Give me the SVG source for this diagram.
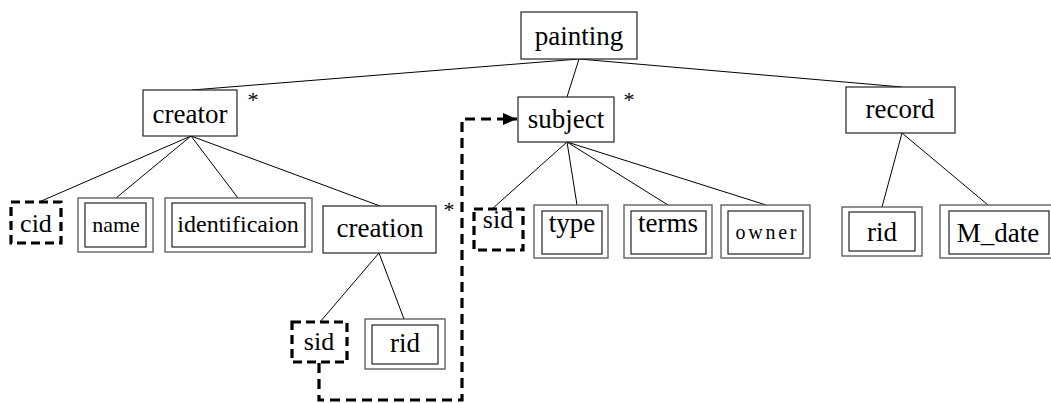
<svg xmlns="http://www.w3.org/2000/svg" width="1051" height="403" viewBox="0 0 1051 403">
<style>
  text { fill: #000; text-anchor: middle; }
  .lbl { font-size: 27px; }
  .sm { font-size: 23px; }
  .star { font-size: 22px; }
  .box { fill: #fff; stroke: #222; stroke-width: 1.2; }
  .outer { fill: #fff; stroke: #555; stroke-width: 1.3; }
  .inner { fill: #fff; stroke: #222; stroke-width: 1.2; }
  .key { fill: #fff; stroke: #000; stroke-width: 3.2; stroke-dasharray: 9 5; }
  .edge { stroke: #000; stroke-width: 1; fill: none; }
  .ref { stroke: #000; stroke-width: 3.2; fill: none; stroke-dasharray: 10 6; }
</style>
<defs>
  <marker id="arrow" markerWidth="14" markerHeight="12" refX="14" refY="6" orient="auto" markerUnits="userSpaceOnUse" viewBox="0 0 14 12">
    <path d="M0,0 L14,6 L0,12 Z" fill="#000"/>
  </marker>
</defs>
<g id="connectors">
  <line class="edge" x1="579" y1="59" x2="192" y2="90"/>
  <line class="edge" x1="579" y1="59" x2="567" y2="97"/>
  <line class="edge" x1="579" y1="59" x2="902" y2="87"/>
  <line class="edge" x1="191" y1="136" x2="39" y2="202"/>
  <line class="edge" x1="191" y1="136" x2="116" y2="198"/>
  <line class="edge" x1="191" y1="136" x2="238" y2="198"/>
  <line class="edge" x1="191" y1="136" x2="380" y2="206"/>
  <line class="edge" x1="567" y1="142" x2="492" y2="209"/>
  <line class="edge" x1="567" y1="142" x2="577" y2="205"/>
  <line class="edge" x1="567" y1="142" x2="668" y2="205"/>
  <line class="edge" x1="567" y1="142" x2="766" y2="205"/>
  <line class="edge" x1="902" y1="133" x2="882" y2="207"/>
  <line class="edge" x1="902" y1="133" x2="988" y2="205"/>
  <line class="edge" x1="379" y1="253" x2="320" y2="322"/>
  <line class="edge" x1="379" y1="253" x2="404" y2="319"/>
  <path class="ref" d="M319,363 L319,400 L462,400 L462,119 L517,119" marker-end="url(#arrow)"/>
</g>
<g font-family="DejaVu Serif">
<g id="painting">
  <rect class="box" x="521" y="12" width="116" height="47"/>
  <text class="lbl" x="579" y="45" font-family="Liberation Serif">painting</text>
</g>
<g id="creator">
  <rect class="box" x="143" y="90" width="94" height="46"/>
  <text class="lbl" x="190" y="123" font-family="Liberation Serif">creator</text>
  <text class="star" x="253" y="107" font-family="Liberation Serif">*</text>
</g>
<g id="subject">
  <rect class="box" x="518" y="97" width="96" height="45"/>
  <text class="lbl" x="566" y="128" font-family="Liberation Serif">subject</text>
  <text class="star" x="629" y="107" font-family="Liberation Serif">*</text>
</g>
<g id="record">
  <rect class="box" x="846" y="87" width="109" height="46"/>
  <text class="lbl" x="900" y="118" font-family="Liberation Serif">record</text>
</g>
<g id="creation">
  <rect class="box" x="323" y="206" width="113" height="47"/>
  <text class="lbl" x="380" y="237" font-family="Liberation Serif">creation</text>
  <text class="star" x="449" y="217" font-family="Liberation Serif">*</text>
</g>
<g id="cid">
  <rect class="key" x="11" y="202" width="50" height="41"/>
  <text class="lbl" x="36" y="232" style="font-size:26px" font-family="Liberation Serif">cid</text>
</g>
<g id="name">
  <rect class="outer" x="78" y="198" width="75" height="54"/>
  <rect class="inner" x="85" y="203" width="61" height="44"/>
  <text class="sm" x="116" y="232" style="font-size:22px" font-family="Liberation Serif">name</text>
</g>
<g id="identificaion">
  <rect class="outer" x="165" y="198" width="147" height="54"/>
  <rect class="inner" x="172" y="203" width="133" height="44"/>
  <text class="sm" x="238" y="232" style="font-size:24px" font-family="Liberation Serif">identificaion</text>
</g>
<g id="sid-subject">
  <rect class="key" x="474" y="209" width="49" height="41"/>
  <text class="lbl" x="498" y="228" style="font-size:26px" font-family="Liberation Serif">sid</text>
</g>
<g id="type">
  <rect class="outer" x="534" y="205" width="74" height="53"/>
  <rect class="inner" x="542" y="211" width="60" height="43"/>
  <text class="lbl" x="572" y="232" font-family="Liberation Serif">type</text>
</g>
<g id="terms">
  <rect class="outer" x="624" y="205" width="88" height="53"/>
  <rect class="inner" x="631" y="211" width="75" height="43"/>
  <text class="lbl" x="668" y="232" font-family="Liberation Serif">terms</text>
</g>
<g id="owner">
  <rect class="outer" x="721" y="205" width="89" height="53"/>
  <rect class="inner" x="728" y="211" width="75" height="43"/>
  <text class="sm" x="766" y="239" style="font-size:20px" textLength="61" lengthAdjust="spacing" font-family="Liberation Serif">owner</text>
</g>
<g id="rid-record">
  <rect class="outer" x="842" y="207" width="80" height="49"/>
  <rect class="inner" x="849" y="212" width="66" height="39"/>
  <text class="lbl" x="882" y="241" font-family="Liberation Serif">rid</text>
</g>
<g id="M_date">
  <rect class="outer" x="940" y="205" width="116" height="53"/>
  <rect class="inner" x="949" y="211" width="100" height="43"/>
  <text class="lbl" x="998" y="242" font-family="Liberation Serif">M_date</text>
</g>
<g id="sid-creation">
  <rect class="key" x="292" y="322" width="55" height="40"/>
  <text class="lbl" x="319" y="350" style="font-size:26px" font-family="Liberation Serif">sid</text>
</g>
<g id="rid-creation">
  <rect class="outer" x="365" y="319" width="80" height="50"/>
  <rect class="inner" x="372" y="325" width="66" height="39"/>
  <text class="lbl" x="405" y="352" font-family="Liberation Serif">rid</text>
</g>
</g>
</svg>
